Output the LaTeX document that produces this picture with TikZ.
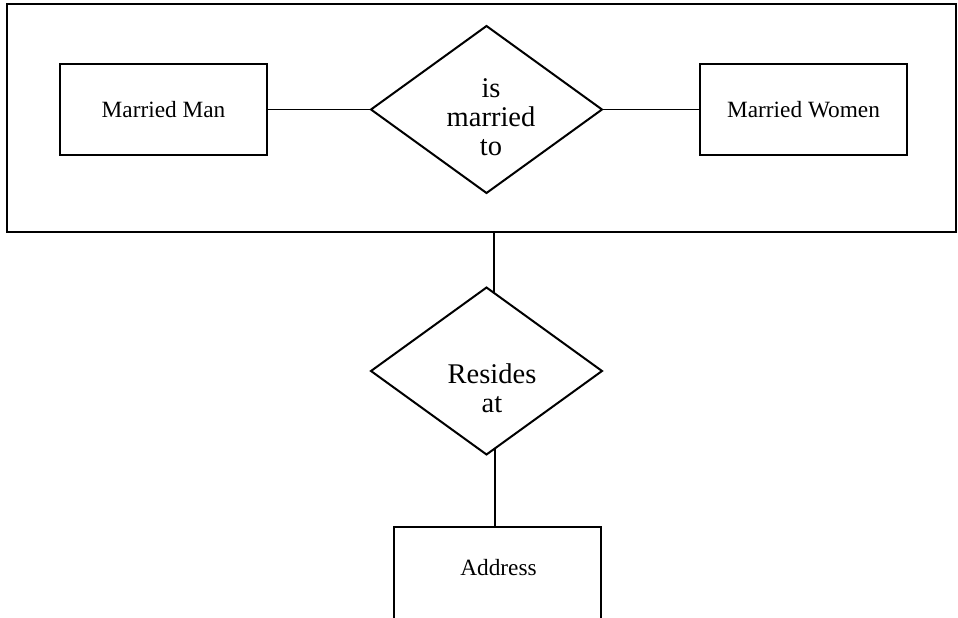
\documentclass[tikz,border=0pt]{standalone}
\usepackage{fontspec}
\setmainfont{Liberation Serif}
\usetikzlibrary{shapes.geometric}
\begin{document}
\begin{tikzpicture}[x=1pt,y=-1pt,
  ent/.style={draw, line width=2pt, rectangle, minimum width=207pt, minimum height=91pt, inner sep=0pt, outer sep=0pt, font=\fontsize{23.3}{28}\selectfont},
  rel/.style={draw, line width=2pt, diamond, minimum width=231pt, minimum height=167pt, inner sep=0pt, outer sep=0pt},
  reltext/.style={align=center, inner sep=0pt, font=\fontsize{28.5}{29}\selectfont},
  enttext/.style={inner sep=0pt, font=\fontsize{23.3}{28}\selectfont},
  conn/.style={line width=1.5pt}]
\useasboundingbox (0,0) rectangle (958,618);
\clip (0,0) rectangle (958,618);
\node[draw, line width=2pt, minimum width=949pt, minimum height=228pt, inner sep=0pt, outer sep=0pt] (outer) at (481.5,118) {};
\node[ent] (man) at (163.5,109.5) {Married Man};
\node[ent] (women) at (803.5,109.5) {Married Women};
\node[rel] (rel1) at (486.5,109.5) {};
\node[reltext] (rel1text) at (491,117) {is\\married\\to};
\node[rel] (rel2) at (486.5,371) {};
\node[reltext] (rel2text) at (492,388) {Resides\\at};
\node[ent, minimum height=93pt] (addr) at (497.5,573.5) {};
\node[enttext] (addrtext) at (498.5,568) {Address};
\coordinate (c1) at (494,292.4);
\coordinate (c2) at (495,448.9);
\draw[conn] (man.east) -- (rel1.west);
\draw[conn] (rel1.east) -- (women.west);
\draw[conn] (outer.south -| c1) -- (c1);
\draw[conn] (c2) -- (addr.north -| c2);
\end{tikzpicture}
\end{document}
